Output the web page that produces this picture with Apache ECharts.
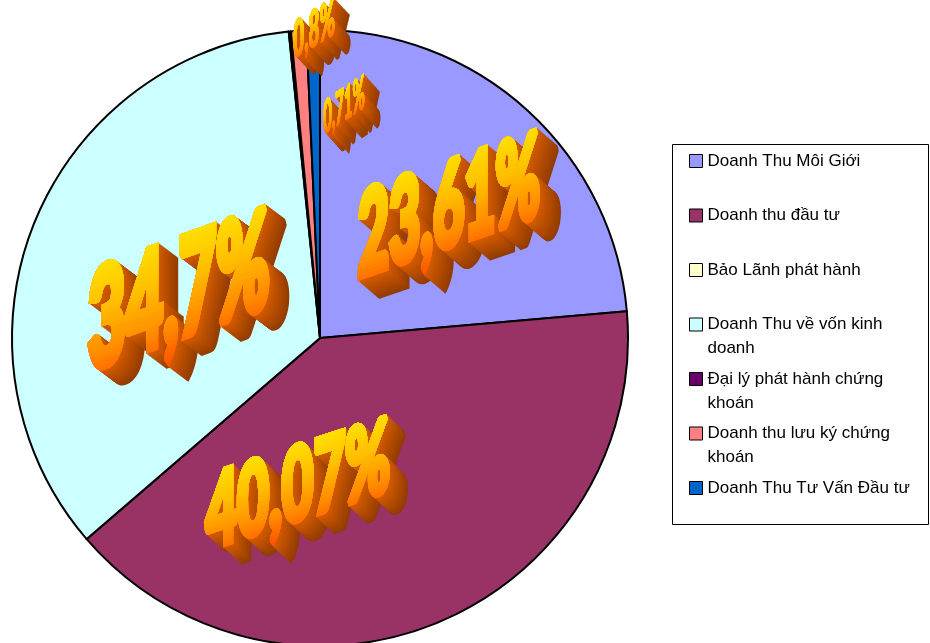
<!DOCTYPE html>
<html>
<head>
<meta charset="utf-8">
<script src="https://cdn.jsdelivr.net/npm/echarts@6/dist/echarts.min.js"></script>
<style>
  html, body { margin: 0; padding: 0; background: #fff; }
  #chart { width: 930px; height: 643px; }
</style>
</head>
<body>
<div id="chart"></div>
<script>
// Revenue structure by business line (share of total, %)
const categories = [
  'Doanh Thu Môi Giới',
  'Doanh thu đầu tư',
  'Bảo Lãnh phát hành',
  'Doanh Thu về vốn kinh doanh',
  'Đại lý phát hành chứng khoán',
  'Doanh thu lưu ký chứng khoán',
  'Doanh Thu Tư Vấn Đầu tư'
];
const shares = [23.61, 40.07, 0, 34.7, 0.11, 0.8, 0.71];
// legend wording, wrapped the way it is set in the key box
const legendLines = [
  ['Doanh Thu Môi Giới'],
  ['Doanh thu đầu tư'],
  ['Bảo Lãnh phát hành'],
  ['Doanh Thu về vốn kinh', 'doanh'],
  ['Đại lý phát hành chứng', 'khoán'],
  ['Doanh thu lưu ký chứng', 'khoán'],
  ['Doanh Thu Tư Vấn Đầu tư']
];
// slices that carry a big percentage caption
const labeledSlices = [0, 1, 3, 5, 6];

const sliceColors = ['#9999FF', '#993366', '#FFFFCC', '#CCFFFF', '#660066', '#FF8080', '#0066CC'];
const PIE_CENTER = [320, 338];
const PIE_RADIUS = 308;

// caption placement/look per slice: radial fraction, angle shift from slice middle (deg),
// glyph height and run width of the front face (px), slant (deg), extrusion depth vector,
// glyph thickening relative to font size
const captionStyle = {
  0: { r: 0.594, shift: 2.3,  h: 110, w: 186, slant: 19, depth: [21, 18], bold: 0.065 },
  1: { r: 0.489, shift: 31.3, h: 96,  w: 188, slant: 18, depth: [18, 17], bold: 0.065 },
  3: { r: 0.480, shift: -4.4, h: 128, w: 186, slant: 20, depth: [20, 15], bold: 0.065 },
  5: { r: 1.0,   shift: 2.9,  h: 46,  w: 42,  slant: 31, depth: [16, 17], bold: 0.02 },
  6: { r: 0.757, shift: 7.2,  h: 42,  w: 42,  slant: 34, depth: [16, 18], bold: 0.015 }
};
const CAPTION_FONT_FAMILY = 'Lato';
const CAPTION_WEIGHT = '900';
const faceStops = [
  [0, [255, 224, 0]],
  [0.35, [255, 190, 0]],
  [0.7, [255, 140, 0]],
  [1, [255, 80, 0]]
];

function faceColor(t) {
  for (let i = 1; i < faceStops.length; i++) {
    if (t <= faceStops[i][0]) {
      const a = faceStops[i - 1], b = faceStops[i];
      const u = (t - a[0]) / (b[0] - a[0]);
      const c = a[1].map((v, j) => Math.round(v + (b[1][j] - v) * u));
      return 'rgb(' + c.join(',') + ')';
    }
  }
  return 'rgb(' + faceStops[faceStops.length - 1][1].join(',') + ')';
}
function hexToRgb(h) {
  const n = parseInt(h.slice(1), 16);
  return [(n >> 16) & 255, (n >> 8) & 255, n & 255];
}
function mixColor(a, b, t) {
  const ca = hexToRgb(a), cb = hexToRgb(b);
  const c = ca.map((v, i) => Math.round(v + (cb[i] - v) * t));
  return 'rgb(' + c.join(',') + ')';
}

const measureCtx = document.createElement('canvas').getContext('2d');
function measure(text, size) {
  measureCtx.font = CAPTION_WEIGHT + ' ' + size + 'px ' + CAPTION_FONT_FAMILY;
  measureCtx.textBaseline = 'middle';
  const m = measureCtx.measureText(text);
  return { width: m.width, asc: m.actualBoundingBoxAscent, desc: m.actualBoundingBoxDescent };
}

const total = shares.reduce((s, v) => s + v, 0);

function renderCaption(params, api) {
  const idx = api.value(0);
  let before = 0;
  for (let i = 0; i < idx; i++) before += shares[i];
  const midDeg = (before + shares[idx] / 2) / total * 360;
  const p = captionStyle[idx];
  const a = (midDeg + p.shift) * Math.PI / 180;
  const cx = PIE_CENTER[0] + Math.sin(a) * PIE_RADIUS * p.r;
  const cy = PIE_CENTER[1] - Math.cos(a) * PIE_RADIUS * p.r;
  const text = String(shares[idx]).replace('.', ',') + '%';

  // size the glyphs so that the front face has the wanted height and run
  const m100 = measure(text, 100);
  const emH = (m100.asc + m100.desc) / 100;
  const size = p.h / (emH + p.bold);
  const lw = size * p.bold;
  const m = measure(text, size);
  const sx = p.w / (m.width + lw);
  const font = CAPTION_WEIGHT + ' ' + size.toFixed(2) + 'px ' + CAPTION_FONT_FAMILY;
  const skew = p.slant * Math.PI / 180;
  const top = -m.asc - lw / 2;
  const bottom = m.desc + lw / 2;

  const children = [];
  // extruded body, back to front
  const n = Math.round(Math.max(Math.abs(p.depth[0]), Math.abs(p.depth[1])) * 1.5);
  for (let k = n; k >= 1; k--) {
    const t = k / n;
    const col = mixColor('#D45C00', '#923C00', t);
    children.push({
      type: 'text',
      x: cx + p.depth[0] * t,
      y: cy + p.depth[1] * t,
      scaleX: sx,
      skewY: skew,
      style: {
        text: text, font: font, fill: col, stroke: col, lineWidth: lw, lineJoin: 'round',
        align: 'center', verticalAlign: 'middle'
      }
    });
  }
  // front face, shaded from yellow at the top to red-orange at the foot
  const bands = 26;
  for (let k = bands - 1; k >= 0; k--) {
    const col = faceColor((k + 0.5) / bands);
    const yCut = top + (bottom - top) * (k + 1) / bands;
    const el = {
      type: 'text',
      x: cx, y: cy,
      scaleX: sx,
      skewY: skew,
      style: {
        text: text, font: font, fill: col, stroke: col, lineWidth: lw, lineJoin: 'round',
        align: 'center', verticalAlign: 'middle'
      }
    };
    if (k < bands - 1) {
      el.clipPath = {
        type: 'rect',
        shape: { x: -m.width, y: top - size, width: m.width * 2, height: yCut - (top - size) }
      };
    }
    children.push(el);
  }
  return { type: 'group', children: children };
}

const chart = echarts.init(document.getElementById('chart'), null, { renderer: 'canvas' });

chart.setOption({
  animation: false,
  backgroundColor: '#ffffff',
  graphic: [{
    type: 'rect',
    shape: { x: 672.5, y: 144.5, width: 256, height: 380 },
    style: { fill: '#ffffff', stroke: '#000000', lineWidth: 1 },
    z: 0
  }],
  legend: {
    orient: 'vertical',
    left: 689,
    top: 125,
    padding: 0,
    itemWidth: 13,
    itemHeight: 13,
    itemGap: -17.5,
    icon: 'rect',
    selectedMode: false,
    data: categories,
    // three text rows per entry (blank, first, second) keep the first row level with the swatch
    formatter: function (name) {
      const lines = legendLines[categories.indexOf(name)];
      return ' \n' + lines[0] + '\n' + (lines[1] || ' ');
    },
    textStyle: {
      fontFamily: '"Liberation Sans", Arial, sans-serif',
      fontSize: 17,
      color: '#000000',
      lineHeight: 24
    },
    itemStyle: { borderColor: '#000000', borderWidth: 1 },
    z: 5
  },
  series: [
    {
      type: 'pie',
      center: PIE_CENTER,
      radius: PIE_RADIUS,
      startAngle: 90,
      clockwise: true,
      silent: true,
      label: { show: false },
      labelLine: { show: false },
      itemStyle: { borderColor: '#000000', borderWidth: 2 },
      data: categories.map((name, i) => ({
        name: name,
        value: shares[i],
        itemStyle: { color: sliceColors[i] }
      })),
      z: 2
    },
    {
      type: 'custom',
      coordinateSystem: 'none',
      silent: true,
      renderItem: renderCaption,
      data: labeledSlices.map(i => [i]),
      z: 4
    }
  ]
});
</script>
</body>
</html>
